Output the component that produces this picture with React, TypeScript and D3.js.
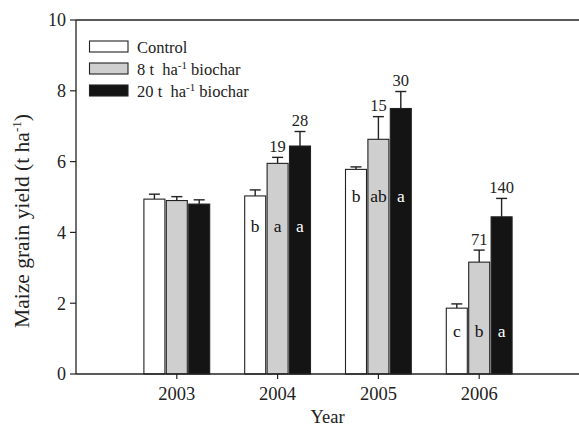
import React from "react";
import * as d3 from "d3";

const years = [2003, 2004, 2005, 2006];
const seriesNames = ["Control", "8 t  ha", "20 t  ha"];
const control = [4.94, 5.03, 5.78, 1.86];
const controlErr = [0.14, 0.17, 0.07, 0.12];
const biochar8 = [4.9, 5.95, 6.63, 3.16];
const biochar8Err = [0.11, 0.17, 0.64, 0.34];
const biochar20 = [4.8, 6.44, 7.5, 4.44];
const biochar20Err = [0.12, 0.41, 0.48, 0.52];
const pctLabels8 = ["", "19", "15", "71"];
const pctLabels20 = ["", "28", "30", "140"];
const lettersControl = ["", "b", "b", "c"];
const letters8 = ["", "a", "ab", "b"];
const letters20 = ["", "a", "a", "a"];
const letterLevel = [0, 4.0, 4.85, 1.05];
const yTicks = [0, 2, 4, 6, 8, 10];

const W = 579;
const H = 426;
const left = 76;
const top = 20;
const bottom = 374;
const right = 580;
const FONT = "'Liberation Serif', 'Times New Roman', Times, serif";

const fills = ["#ffffff", "#cfcfcf", "#141414"];
const letterColors = ["#111", "#111", "#ffffff"];

export default function App() {
  const x = d3.scaleLinear().domain([2002, 2007]).range([left, right]);
  const y = d3.scaleLinear().domain([0, 10]).range([bottom, top]);
  const offset = d3.scaleLinear().domain([0, 2]).range([-22.4, 22.4]);
  const barW = 21;
  const vals = [control, biochar8, biochar20];
  const errs = [controlErr, biochar8Err, biochar20Err];
  const letters = [lettersControl, letters8, letters20];
  const pct = [null, pctLabels8, pctLabels20];

  return (
    <svg
      width={W}
      height={H}
      style={{ position: "absolute", left: 0, top: 0, background: "#fff", fontFamily: FONT }}
      fontFamily={FONT}
    >
      {/* bars */}
      {years.map((yr, i) =>
        vals.map((v, s) => {
          const cx = x(yr) + offset(s);
          const val = v[i];
          const e = errs[s][i];
          return (
            <g key={`${yr}-${s}`}>
              <line x1={cx} x2={cx} y1={y(val)} y2={y(val + e)} stroke="#222" strokeWidth={1.4} />
              <line x1={cx - 5.5} x2={cx + 5.5} y1={y(val + e)} y2={y(val + e)} stroke="#222" strokeWidth={1.4} />
              <rect x={cx - barW / 2} y={y(val)} width={barW} height={y(0) - y(val)} fill={fills[s]} stroke="#222" strokeWidth={1.1} />
              {letters[s][i] && (
                <text x={cx} y={y(letterLevel[i])} textAnchor="middle" fontSize={17.5} fill={letterColors[s]} fontFamily={FONT}>
                  {letters[s][i]}
                </text>
              )}
              {pct[s] && pct[s]![i] && (
                <text x={cx} y={y(val + e) - 5.5} textAnchor="middle" fontSize={16.5} fill="#222" fontFamily={FONT}>
                  {pct[s]![i]}
                </text>
              )}
            </g>
          );
        })
      )}

      {/* axes */}
      <line x1={left} x2={W} y1={top} y2={top} stroke="#222" strokeWidth={1.3} />
      <line x1={left} x2={W} y1={bottom} y2={bottom} stroke="#222" strokeWidth={1.3} />
      <line x1={left} x2={left} y1={top} y2={bottom} stroke="#222" strokeWidth={1.3} />
      {yTicks.map((t) => (
        <g key={t}>
          <line x1={left - 6} x2={left} y1={y(t)} y2={y(t)} stroke="#222" strokeWidth={1.2} />
          <text x={66} y={y(t) + 6.3} textAnchor="end" fontSize={18} fill="#222" fontFamily={FONT}>
            {t}
          </text>
        </g>
      ))}
      {years.map((yr) => (
        <g key={yr}>
          <line x1={x(yr)} x2={x(yr)} y1={bottom} y2={bottom + 5} stroke="#222" strokeWidth={1.2} />
          <text x={x(yr)} y={399.5} textAnchor="middle" fontSize={18.5} fill="#222" fontFamily={FONT}>
            {yr}
          </text>
        </g>
      ))}
      <text x={(left + W) / 2} y={423} textAnchor="middle" fontSize={18.5} fill="#222" fontFamily={FONT}>
        Year
      </text>
      <text transform={`translate(29,221) rotate(-90)`} textAnchor="middle" fontSize={21.5} fill="#222" fontFamily={FONT}>
        Maize grain yield (t ha
        <tspan dy={-8} fontSize={13}>-1</tspan>
        <tspan dy={8}>)</tspan>
      </text>

      {/* legend */}
      {seriesNames.map((name, s) => {
        const by = 52.5 + s * 22;
        return (
          <g key={name}>
            <rect x={89.5} y={by - 11.5} width={38.5} height={11} fill={fills[s]} stroke="#222" strokeWidth={1.1} />
            <text x={137} y={by} fontSize={16.5} fill="#222" fontFamily={FONT} style={{ whiteSpace: "pre" }}>
              {name}
              {s > 0 && (
                <>
                  <tspan dy={-6} fontSize={11}>-1</tspan>
                  <tspan dy={6}> biochar</tspan>
                </>
              )}
            </text>
          </g>
        );
      })}
    </svg>
  );
}
